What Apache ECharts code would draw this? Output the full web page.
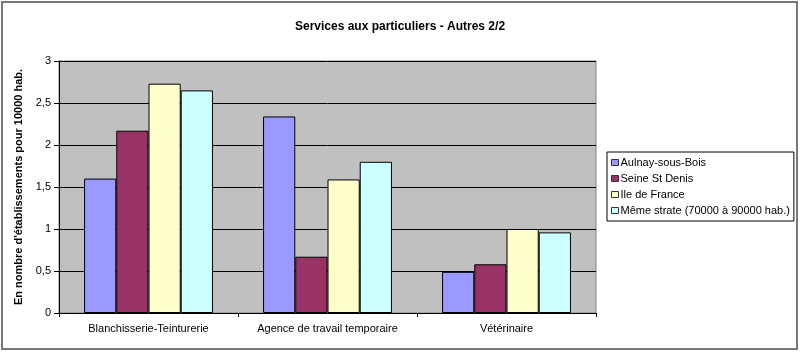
<!DOCTYPE html>
<html>
<head>
<meta charset="utf-8">
<script src="https://cdn.jsdelivr.net/npm/echarts@6/dist/echarts.min.js"></script>
<style>
  html, body { margin: 0; padding: 0; background: #fff; }
  #chart { width: 800px; height: 352px; }
</style>
</head>
<body>
<div id="chart"></div>
<script>
const categories = ['Blanchisserie-Teinturerie', 'Agence de travail temporaire', 'Vétérinaire'];
const seriesNames = ['Aulnay-sous-Bois', 'Seine St Denis', 'Ile de France', 'Même strate (70000 à 90000 hab.)'];
const aulnay = [1.6, 2.34, 0.49];
const seineStDenis = [2.17, 0.67, 0.58];
const ileDeFrance = [2.73, 1.59, 1.0];
const memeStrate = [2.65, 1.8, 0.96];
const colors = ['#9999ff', '#993366', '#ffffcc', '#ccffff'];

const values = [aulnay, seineStDenis, ileDeFrance, memeStrate];
const font = 'Arial, "Liberation Sans", sans-serif';

const chart = echarts.init(document.getElementById('chart'));

const opts = {
  animation: false,
  textStyle: { fontFamily: font },
  title: {
    text: 'Services aux particuliers - Autres 2/2',
    left: 'center',
    top: 16,
    textStyle: { fontSize: 12, fontWeight: 'bold', color: '#000', fontFamily: font },
  },
  graphic: [
    {
      type: 'rect',
      shape: { x: 2, y: 2, width: 795, height: 347 },
      style: { fill: 'none', stroke: '#777', lineWidth: 2 },
      z: 100,
    },
  ],
  legend: {
    orient: 'vertical',
    left: 607,
    top: 152,
    width: 186,
    padding: [5, 4, 5, 4],
    itemGap: 5,
    itemWidth: 7,
    itemHeight: 6,
    borderColor: '#000',
    borderWidth: 1,
    icon: 'rect',
    textStyle: { fontSize: 11, color: '#000', fontFamily: font, padding: [0, 0, 0, -3] },
    data: seriesNames.map((n) => ({ name: n, itemStyle: { borderColor: '#333', borderWidth: 1 } })),
  },
  grid: {
    left: 59,
    right: 204,
    top: 61,
    bottom: 39,
    show: true,
    backgroundColor: '#c0c0c0',
    borderColor: '#808080',
    borderWidth: 1,
  },
  xAxis: {
    type: 'category',
    data: categories,
    axisLine: { lineStyle: { color: '#000' } },
    axisTick: { show: true, length: 4, lineStyle: { color: '#000' } },
    axisLabel: { fontSize: 11, color: '#000', margin: 10, interval: 0 },
  },
  yAxis: {
    type: 'value',
    min: 0,
    max: 3,
    interval: 0.5,
    name: "En nombre d'établissements pour 10000 hab.",
    nameLocation: 'middle',
    nameGap: 28,
    nameTextStyle: { fontSize: 11, fontWeight: 'bold', color: '#000' },
    axisLine: { show: true, lineStyle: { color: '#000' } },
    axisTick: { show: true, length: 5, lineStyle: { color: '#000' } },
    axisLabel: {
      fontSize: 11,
      color: '#000',
      margin: 8,
      formatter: (v) => String(v).replace('.', ','),
    },
    splitLine: { lineStyle: { color: '#000', width: 1 } },
  },
  series: seriesNames.map((name, i) => ({
    name,
    type: 'bar',
    data: values[i],
    barGap: '0%',
    barCategoryGap: '28%',
    itemStyle: { color: colors[i], borderColor: '#000', borderWidth: 1 },
  })),
};

chart.setOption(opts);
</script>
</body>
</html>
